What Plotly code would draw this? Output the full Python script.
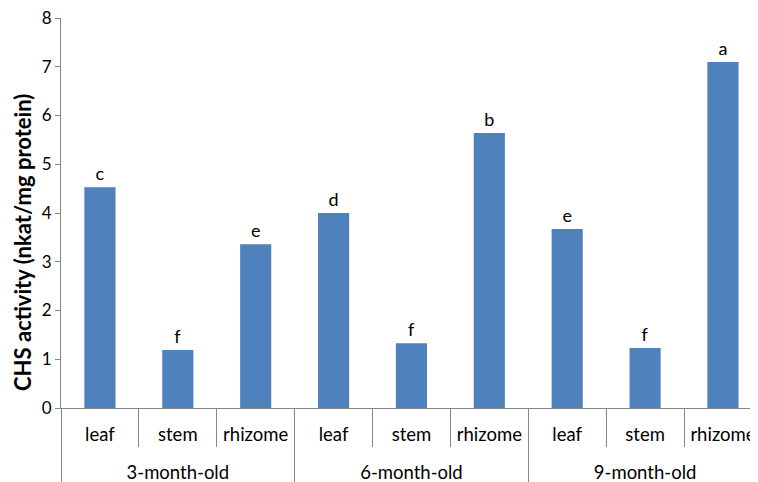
import plotly.graph_objects as go

group_names = ["3-month-old", "6-month-old", "9-month-old"]
tissue_names = ["leaf", "stem", "rhizome"]
values = [4.53, 1.19, 3.36, 4.00, 1.33, 5.64, 3.67, 1.23, 7.10]
letters = ["c", "f", "e", "d", "f", "b", "e", "f", "a"]
yticks = [0, 1, 2, 3, 4, 5, 6, 7, 8]
y_title = "CHS activity (nkat/mg protein)"

# leading line break pushes the group row further below the tissue row
groups = ["<br>" + g for g in group_names for _ in tissue_names]
tissues = [t for _ in group_names for t in tissue_names]

axis_color = "#868686"
font_family = "Lato, 'Open Sans', sans-serif"

fig = go.Figure(
    go.Bar(
        x=[groups, tissues],
        y=values,
        text=letters,
        textposition="outside",
        textfont=dict(size=18, color="black", family=font_family),
        marker=dict(color="#4F81BD", line=dict(width=0)),
        width=0.4,
        cliponaxis=False,
    )
)

# page body has an 8px margin, so the figure is 8px smaller than the window
fig.update_layout(
    width=750,
    height=474,
    margin=dict(l=53, r=0, t=10, b=74),
    plot_bgcolor="white",
    paper_bgcolor="white",
    showlegend=False,
    font=dict(family=font_family, size=18, color="black"),
)

fig.update_xaxes(
    type="multicategory",
    range=[-0.5, 8.45],
    automargin=False,
    showline=True,
    linecolor=axis_color,
    linewidth=1,
    ticks="outside",
    tickson="boundaries",
    ticklen=38,
    tickcolor=axis_color,
    ticklabelstandoff=10,
    showdividers=True,
    dividercolor=axis_color,
    dividerwidth=1,
    tickfont=dict(size=18.5, family=font_family, color="black"),
    showgrid=False,
)

fig.update_yaxes(
    range=[0, 8],
    tickvals=yticks,
    automargin=False,
    showline=True,
    linecolor=axis_color,
    linewidth=1,
    ticks="outside",
    ticklen=5,
    tickcolor=axis_color,
    ticklabeloverflow="allow",
    showgrid=False,
    zeroline=False,
    tickfont=dict(size=17, family=font_family, color="black"),
)

fig.add_annotation(
    text="<b>" + y_title + "</b>",
    xref="paper",
    yref="paper",
    x=-0.056,
    y=0.4256,
    xanchor="center",
    yanchor="middle",
    textangle=-90,
    showarrow=False,
    font=dict(size=22, family=font_family, color="black"),
)

fig.write_html("out.html")
